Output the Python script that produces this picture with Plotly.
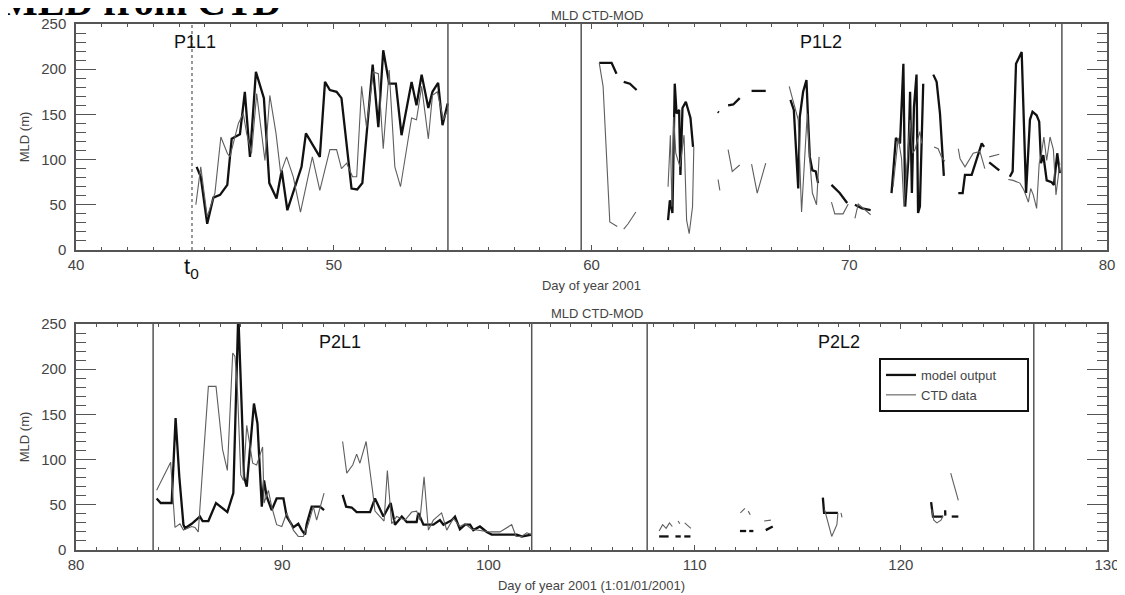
import plotly.graph_objects as go
from plotly.subplots import make_subplots

N = None
# ---------------- Period 1 (top panel) ----------------
p1_model_day = [44.68, 44.84, 45.09, 45.33, 45.59, 45.87, 46.04, 46.36, 46.55, 46.75, 46.98, 47.29, 47.50, 47.78, 47.98,
                48.20, 48.75, 48.92, 49.46, 49.66, 49.85, 50.11, 50.30, 50.69, 50.91, 51.11, 51.51, 51.73, 51.92, 52.15,
                52.41, 52.63, 53.02, 53.21, 53.41, 53.67, 53.83, 54.05, 54.22, 54.42, N,
                60.30, 60.78, 60.97, N, 61.25, 61.49, 61.75, N,
                62.97, 63.04, 63.14, 63.23, 63.30, 63.40, 63.45, 63.53, 63.66, 63.75, 63.84, 63.94, N,
                64.90, 64.94, N, 65.30, 65.50, 65.75, N, 66.21, 66.76, N,
                67.72, 67.85, 68.02, 68.08, 68.21, 68.34, 68.41, 68.47, 68.57, 68.70, 68.79, N,
                69.31, 69.63, 69.92, N, 70.22, 70.50, 70.83, N,
                71.64, 71.81, 71.97, 72.10, 72.17, 72.29, 72.36, 72.43, 72.51, 72.61, 72.67, 72.74, 72.87, N,
                73.26, 73.39, 73.52, 73.67, N,
                74.23, 74.40, 74.49, 74.75, 75.14, 75.23, N, 75.43, 75.82, N,
                76.23, 76.34, 76.47, 76.69, 76.86, 77.01, 77.11, 77.27, 77.37, 77.44, 77.53, 77.66, 77.85, 77.94, 78.07, 78.17]
p1_model_mld = [92, 81, 29, 58, 61, 72, 123, 128, 175, 103, 197, 168, 74, 57, 88,
                44, 92, 129, 103, 186, 177, 175, 168, 68, 67, 74, 205, 136, 221, 184,
                184, 127, 186, 160, 194, 157, 175, 185, 138, 162, N,
                207, 207, 195, N, 186, 184, 177, N,
                33, 55, 41, 184, 151, 155, 83, 157, 164, 155, 146, 114, N,
                153, 152, N, 160, 161, 168, N, 176, 176, N,
                166, 155, 68, 147, 175, 188, 140, 103, 88, 87, 74, N,
                72, 63, 52, N, 50, 46, 44, N,
                63, 124, 118, 206, 48, 99, 175, 63, 158, 194, 41, 48, 184, N,
                194, 186, 151, 82, N,
                63, 63, 83, 83, 118, 114, N, 97, 88, N,
                81, 87, 206, 219, 63, 144, 153, 149, 142, 96, 105, 77, 75, 72, 107, 85]

p1_ctd_day = [44.65, 44.84, 45.09, 45.39, 45.62, 45.87, 45.97, 46.30, 46.49, 46.62, 46.81, 47.01, 47.33, 47.52, 47.76,
              47.94, 48.17, 48.43, 48.71, 49.17, 49.46, 49.85, 50.11, 50.30, 50.50, 50.73, 50.89, 51.08, 51.27, 51.53,
              51.73, 51.92, 52.15, 52.37, 52.59, 53.02, 53.21, 53.41, 53.67, 53.83, 54.02, 54.25, 54.42, N,
              60.30, 60.45, 60.71, 60.84, 61.00, N, 61.25, 61.42, 61.72, N,
              62.97, 63.06, 63.12, 63.19, 63.27, 63.43, 63.59, 63.69, 63.79, 63.92, 63.97, N,
              64.91, 64.98, N, 65.30, 65.46, 65.75, N, 66.21, 66.43, 66.76, N,
              67.67, 67.85, 68.02, 68.15, 68.28, 68.37, 68.47, 68.57, 68.73, 68.83, N,
              69.31, 69.44, 69.76, 69.96, N, 70.22, 70.35, 70.83, N,
              71.70, 71.90, 72.03, 72.12, 72.23, 72.36, 72.46, 72.55, 72.74, 72.81, N,
              73.29, 73.45, 73.58, 73.71, N,
              74.23, 74.30, 74.49, 74.81, 75.07, 75.26, N, 75.43, 75.82, N,
              76.17, 76.36, 76.62, 76.78, 76.95, 77.04, 77.14, 77.27, 77.37, 77.46, 77.55, 77.66, 77.79, 77.92, 78.02, 78.17]
p1_ctd_mld = [50, 92, 37, 63, 125, 107, 103, 140, 151, 129, 107, 173, 99, 171, 129,
              85, 103, 81, 42, 103, 66, 111, 111, 90, 96, 81, 81, 181, 136, 197,
              195, 112, 199, 92, 70, 146, 144, 181, 123, 171, 175, 144, 155, N,
              207, 181, 31, 29, 26, N, 23, 29, 42, N,
              70, 127, 48, 147, 107, 92, 127, 33, 18, 48, 114, N,
              78, 66, N, 111, 87, 94, N, 95, 63, 96, N,
              181, 162, 144, 42, 114, 151, 99, 63, 50, 103, N,
              53, 40, 40, 51, N, 35, 51, 39, N,
              70, 124, 101, 48, 90, 144, 107, 111, 131, 118, N,
              114, 112, 103, 98, N,
              112, 101, 92, 107, 109, 90, N, 103, 106, N,
              78, 77, 74, 66, 53, 68, 61, 46, 96, 107, 125, 99, 125, 111, 61, 96]

# ---------------- Period 2 (bottom panel) ----------------
p2_model_day = [83.91, 84.11, 84.64, 84.83, 85.01, 85.21, 85.29, 85.61, 86.01, 86.14, 86.42, 86.79, 87.34, 87.63, 87.79,
                87.87, 88.04, 88.15, 88.28, 88.63, 88.80, 89.01, 89.12, 89.25, 89.49, 89.73, 90.06, 90.22, 90.54, 90.78,
                90.95, 91.11, 91.19, 91.43, 91.83, 92.03, N,
                92.93, 93.10, 93.37, 93.61, 94.26, 94.50, 94.91, 95.26, 95.47, 95.80, 96.04, 96.52, 96.60, 96.85, 97.33,
                97.65, 97.82, 98.22, 98.38, 98.62, 98.87, 99.11, 99.27, 99.59, 99.92, 100.16, 101.37, 101.61, 102.10, N,
                108.28, 108.74, N, 109.07, 109.33, N, 109.50, 109.80, N,
                112.20, 112.50, N, 112.65, 112.85, N, 113.45, 113.79, N,
                116.22, 116.28, 116.95, N,
                121.47, 121.56, 122.05, N, 122.15, 122.16, N, 122.47, 122.79]
p2_model_mld = [57, 52, 52, 146, 81, 28, 24, 29, 37, 32, 32, 52, 42, 63, 195,
                262, 155, 81, 70, 162, 140, 48, 77, 59, 44, 57, 57, 37, 25, 29,
                22, 17, 29, 48, 48, 44, N,
                61, 48, 47, 42, 42, 57, 37, 52, 28, 37, 31, 31, 41, 28, 28,
                33, 28, 33, 37, 23, 28, 28, 22, 26, 20, 17, 17, 15, 17, N,
                15, 15, N, 15, 15, N, 15, 15, N,
                21, 21, N, 21, 21, N, 22, 26, N,
                58, 41, 41, N,
                53, 37, 37, N, 44, 38, N, 37, 37]

p2_ctd_day = [83.91, 84.24, 84.59, 84.80, 85.04, 85.21, 85.61, 85.77, 85.93, 86.18, 86.42, 86.79, 87.11, 87.34, 87.60,
              87.71, 87.83, 87.99, 88.12, 88.28, 88.57, 88.76, 89.05, 89.12, 89.33, 89.49, 89.73, 89.98, 90.22, 90.54,
              90.78, 91.03, 91.27, 91.51, 91.67, 92.03, N,
              92.93, 93.13, 93.42, 93.61, 93.77, 94.07, 94.39, 94.50, 94.94, 95.10, 95.31, 95.55, 95.96, 96.28, 96.52,
              96.68, 96.88, 97.09, 97.33, 97.73, 97.98, 98.30, 98.62, 98.87, 99.19, 99.51, 100.08, 100.56, 101.13, 101.34,
              101.61, 101.86, 102.10, N,
              108.28, 108.45, 108.62, 108.78, 108.92, N, 109.20, 109.28, N, 109.52, 109.82, N,
              112.22, 112.44, N, 112.60, 112.70, N, 113.37, 113.70, N,
              116.30, 116.65, 116.90, 116.95, N, 117.10, 117.15, N,
              121.50, 121.60, 121.75, 121.95, 122.05, N, 122.42, 122.79]
p2_ctd_mld = [66, 81, 97, 25, 29, 22, 26, 25, 20, 103, 181, 181, 111, 88, 218,
              214, 177, 83, 77, 138, 96, 94, 114, 52, 66, 48, 28, 26, 41, 22,
              15, 15, 29, 48, 33, 63, N,
              120, 85, 94, 106, 96, 120, 64, 43, 32, 88, 29, 37, 33, 42, 43,
              33, 81, 22, 33, 41, 22, 35, 26, 29, 23, 22, 20, 20, 28, 15,
              15, 19, 17, N,
              21, 28, 24, 30, 26, N, 32, 29, N, 30, 24, N,
              41, 46, N, 43, 39, N, 32, 33, N,
              45, 15, 28, 41, N, 41, 36, N,
              45, 33, 30, 33, 38, N, 85, 55]

# leg boundaries (vertical lines) and labels
p1_bounds = [54.43, 59.6, 78.25]
p2_bounds = [83.74, 102.1, 107.7, 126.45]
t0_day = 44.5
leg_names = ["P1L1", "P1L2", "P2L1", "P2L2"]
leg_days = [44.6, 68.9, 92.8, 117.0]
leg_rows = [1, 1, 2, 2]
p1_ticks = [40, 50, 60, 70, 80]
p2_ticks = [80, 90, 100, 110, 120, 130]
y_ticks = [0, 50, 100, 150, 200, 250]

MODEL_C = "#111111"
CTD_C = "#5e5e5e"
AX_C = "#555555"
TXT_C = "#444444"
FONT = "Liberation Sans"
PAD = "\u00a0" * 7   # widen legend box like the reference

# page body has an 8px margin: figure spans page (8..1125, 8..595)
W, H = 1117, 587
ML, MT, MR, MB = 68, 16, 18, 45
PW, PH = W - ML - MR, H - MT - MB   # 1031 x 526

fig = make_subplots(rows=2, cols=1, vertical_spacing=74 / PH)

fig.add_trace(go.Scatter(x=p1_model_day, y=p1_model_mld, mode="lines", name="model output" + PAD,
                         line=dict(color=MODEL_C, width=2.3), legendgroup="m", showlegend=True), row=1, col=1)
fig.add_trace(go.Scatter(x=p1_ctd_day, y=p1_ctd_mld, mode="lines", name="CTD data",
                         line=dict(color=CTD_C, width=1.1), legendgroup="c", showlegend=True), row=1, col=1)
fig.add_trace(go.Scatter(x=p2_model_day, y=p2_model_mld, mode="lines", name="model output",
                         line=dict(color=MODEL_C, width=2.3), legendgroup="m", showlegend=False), row=2, col=1)
fig.add_trace(go.Scatter(x=p2_ctd_day, y=p2_ctd_mld, mode="lines", name="CTD data",
                         line=dict(color=CTD_C, width=1.1), legendgroup="c", showlegend=False), row=2, col=1)

xcommon = dict(showgrid=False, zeroline=False, showline=True, linecolor=AX_C, linewidth=1.5, mirror="ticks",
               ticks="inside", ticklen=5, tickwidth=1.2, tickcolor=AX_C,
               tickfont=dict(family=FONT, size=15, color=TXT_C), ticklabelstandoff=0,
               minor=dict(ticks="inside", ticklen=3, tickcolor=AX_C, tickwidth=1, dtick=1, showgrid=False))
ycommon = dict(showgrid=False, zeroline=False, showline=True, linecolor=AX_C, linewidth=1.5, mirror="ticks",
               ticks="inside", ticklen=20, tickwidth=1.2, tickcolor=AX_C, range=[0, 250],
               tickmode="array", tickvals=y_ticks, ticklabelstandoff=5,
               tickfont=dict(family=FONT, size=15, color=TXT_C),
               minor=dict(ticks="inside", ticklen=10, tickcolor=AX_C, tickwidth=1, dtick=10, tick0=0, showgrid=False),
               title=dict(text="MLD (m)", font=dict(family=FONT, size=13, color=TXT_C), standoff=9))

fig.update_xaxes(**xcommon, range=[40, 80], tickmode="array", tickvals=p1_ticks,
                 title=dict(text="Day of year 2001", font=dict(family=FONT, size=13, color=TXT_C), standoff=9),
                 row=1, col=1)
fig.update_xaxes(**xcommon, range=[80, 130], tickmode="array", tickvals=p2_ticks,
                 title=dict(text="Day of year 2001 (1:01/01/2001)", font=dict(family=FONT, size=13, color=TXT_C), standoff=9),
                 row=2, col=1)
fig.update_yaxes(**ycommon)

for xb in p1_bounds:
    fig.add_shape(type="line", x0=xb, x1=xb, y0=0, y1=1, xref="x", yref="y domain",
                  line=dict(color=AX_C, width=1.5))
for xb in p2_bounds:
    fig.add_shape(type="line", x0=xb, x1=xb, y0=0, y1=1, xref="x2", yref="y2 domain",
                  line=dict(color=AX_C, width=1.5))
fig.add_shape(type="line", x0=t0_day, x1=t0_day, y0=0, y1=1, xref="x", yref="y domain",
              line=dict(color="#777777", width=1.5, dash="dot"))

for name, d, r in zip(leg_names, leg_days, leg_rows):
    fig.add_annotation(text=name, x=d, y=0.92, xref="x" if r == 1 else "x2", yref="y domain" if r == 1 else "y2 domain",
                       showarrow=False, yanchor="middle", xanchor="center",
                       font=dict(family=FONT, size=18, color="#111111"))

fig.add_annotation(text="t<sub>0</sub>", x=t0_day, y=-18 / 226, xref="x", yref="y domain", showarrow=False,
                   font=dict(family=FONT, size=22, color="#111111"), yanchor="middle")

# page y -> paper y
def py(page_y):
    return (H - MB - (page_y - 8)) / PH

for yy in [py(15.5), py(313)]:
    fig.add_annotation(text="MLD CTD-MOD", x=(597 - 76) / PW, y=yy, xref="paper", yref="paper", showarrow=False,
                       font=dict(family=FONT, size=13, color=TXT_C), yanchor="middle", xanchor="center")

fig.add_annotation(text="<b>MLD from CTD</b>", x=-78 / PW, y=py(2), xref="paper", yref="paper",
                   xanchor="left", yanchor="middle", showarrow=False,
                   font=dict(family="Liberation Serif", size=40, color="#000000"))

fig.update_layout(
    width=W, height=H, margin=dict(l=ML, r=MR, t=MT, b=MB, autoexpand=False),
    plot_bgcolor="white", paper_bgcolor="white",
    legend=dict(x=(879 - 76) / PW, y=py(358), xanchor="left", yanchor="top",
                bordercolor="#111111", borderwidth=2, bgcolor="white", itemwidth=30,
                font=dict(family=FONT, size=13, color=TXT_C), tracegroupgap=0),
)

fig.write_html("out.html")
